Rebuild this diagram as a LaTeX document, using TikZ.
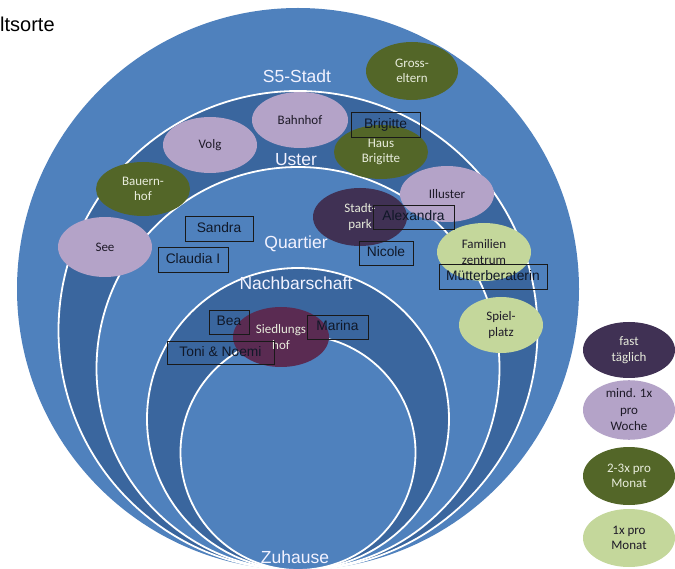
\documentclass[tikz,border=0pt]{standalone}
\usepackage{fontspec}
\setmainfont{Liberation Sans}
\newfontfamily\calib{Carlito}
\usetikzlibrary{shapes.geometric}
\definecolor{bluemid}{RGB}{79,129,189}
\definecolor{bluedark}{RGB}{58,102,158}
\definecolor{lpurple}{RGB}{180,163,200}
\definecolor{dpurple}{RGB}{64,49,84}
\definecolor{plum}{RGB}{90,43,82}
\definecolor{dgreen}{RGB}{83,102,40}
\definecolor{lgreen}{RGB}{196,215,155}
\definecolor{lighttxt}{RGB}{232,236,220}
\definecolor{darktxt}{RGB}{30,26,40}
\definecolor{boxtxt}{RGB}{16,24,40}
\tikzset{
  ell/.style={ellipse, inner sep=0pt, align=center, font=\calib\fontsize{13}{15.5}\selectfont},
  ldark/.style={ell, fill=dpurple, text=lighttxt},
  lplum/.style={ell, fill=plum, text=lighttxt},
  llight/.style={ell, fill=lpurple, text=darktxt},
  gdark/.style={ell, fill=dgreen, text=lighttxt},
  glight/.style={ell, fill=lgreen, text=darktxt},
  namebox/.style={draw=black!90, line width=1pt, inner sep=0pt, text=boxtxt,
    font=\fontsize{13.8}{16}\selectfont, text height=0.72em, text depth=0.2em},
  ringlabel/.style={inner sep=0pt, text=white!95!blue, font=\fontsize{17.5}{20}\selectfont},
  ring/.style={draw=white, line width=1.8pt}
}
\begin{document}
\begin{tikzpicture}[x=1pt,y=-1pt]
\useasboundingbox (0,0) rectangle (675,569);
\clip (0,0) rectangle (675,569);
\fill[white] (0,0) rectangle (675,569);
% rings
\fill[bluemid] (298,289) circle[radius=281pt];
\filldraw[ring, fill=bluedark] (298,330.5) circle[radius=239.5pt];
\filldraw[ring, fill=bluemid] (298,368.5) circle[radius=201.5pt];
\filldraw[ring, fill=bluedark] (298,419) circle[radius=151pt];
\filldraw[ring, fill=bluemid] (298,452.5) circle[radius=117.5pt];
% title fragment
\node[anchor=base west, inner sep=0pt, font=\fontsize{20}{23}\selectfont] (title) at (0,32) {ltsorte};
% ring labels
\node[ringlabel] (s5) at (297,76) {S5-Stadt};
\node[ringlabel] (uster) at (296,160) {Uster};
\node[ringlabel] (quartier) at (296,244) {Quartier};
\node[ringlabel] (nachbar) at (296,283) {Nachbarschaft};
\node[ringlabel] (zuhause) at (295,557) {Zuhause};
% places
\node[gdark, minimum width=92pt, minimum height=58pt] (gross) at (412,71) {Gross-\\eltern};
\node[llight, minimum width=94pt, minimum height=56pt] (volg) at (210,145) {Volg};
\node[llight, minimum width=96pt, minimum height=56pt] (bahnhof) at (300,120) {Bahnhof};
\node[gdark, minimum width=94pt, minimum height=54pt] (haus) at (381,152) {Haus\\Brigitte};
\node[gdark, minimum width=94pt, minimum height=54pt] (bauern) at (143,189) {Bauern-\\hof};
\node[llight, minimum width=94pt, minimum height=60pt] (see) at (105,247) {See};
\node[llight, minimum width=94pt, minimum height=56pt] (illuster) at (447,194) {Illuster};
\node[ldark, minimum width=94pt, minimum height=58pt] (stadtpark) at (360,217) {Stadt-\\park};
\node[glight, minimum width=94pt, minimum height=58pt] (familien) at (484,252) {Familien\\zentrum};
\node[glight, minimum width=84pt, minimum height=56pt] (spiel) at (501,325) {Spiel-\\platz};
\node[lplum, minimum width=96pt, minimum height=60pt] (sied) at (281,337) {Siedlungs\\hof};
% persons
\node[namebox, minimum width=69pt, minimum height=25pt] (brigitte) at (385.5,125.5) {Brigitte};
\node[namebox, minimum width=68pt, minimum height=25pt] (sandra) at (219,229.5) {Sandra};
\node[namebox, minimum width=70pt, minimum height=25pt] (claudia) at (193,260.5) {Claudia I};
\node[namebox, minimum width=81pt, minimum height=24pt] (alexandra) at (413.5,218) {Alexandra};
\node[namebox, minimum width=54pt, minimum height=24pt] (nicole) at (386,254) {Nicole};
\node[namebox, minimum width=108pt, minimum height=25pt] (muetter) at (493,277.5) {Mütterberaterin};
\node[namebox, minimum width=40pt, minimum height=24pt] (bea) at (229,323) {Bea};
\node[namebox, minimum width=61pt, minimum height=24pt] (marina) at (337.5,328) {Marina};
\node[namebox, minimum width=107pt, minimum height=23pt] (toni) at (220.5,353.5) {Toni \& Noemi};
% legend
\node[ldark, minimum width=92pt, minimum height=56pt] (leg1) at (629,350) {fast\\täglich};
\node[llight, minimum width=92pt, minimum height=56pt, font=\calib\fontsize{13}{16.5}\selectfont] (leg2) at (629,410) {mind. 1x\\pro\\Woche};
\node[gdark, minimum width=92pt, minimum height=58pt] (leg3) at (629,476) {2-3x pro\\Monat};
\node[glight, minimum width=92pt, minimum height=58pt] (leg4) at (629,538) {1x pro\\Monat};
\end{tikzpicture}
\end{document}
